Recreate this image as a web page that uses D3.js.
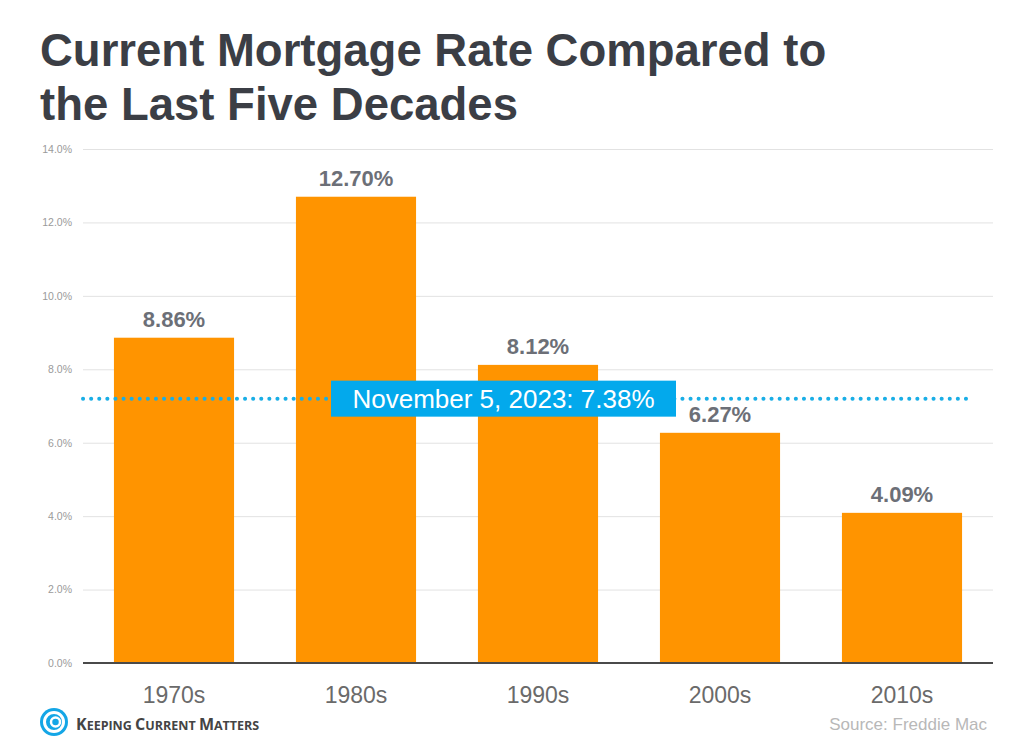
<!DOCTYPE html>
<html>
<head>
<meta charset="utf-8">
<script src="https://cdn.jsdelivr.net/npm/d3@7"></script>
<style>
  body { margin: 0; background: #fff; }
  svg { display: block; font-family: "Liberation Sans", Arial, sans-serif; }
</style>
</head>
<body>
<div id="chart"></div>
<script>
// chart data
const decades = ['1970s', '1980s', '1990s', '2000s', '2010s'];
const rates = [8.86, 12.70, 8.12, 6.27, 4.09];
const yTicks = [0, 2, 4, 6, 8, 10, 12, 14];
const currentLabel = 'November 5, 2023: 7.38%';
const currentLineLevel = 7.2; // where the dotted line sits in the picture

const width = 1023;
const height = 747;
const margin = { top: 149, right: 30, bottom: 84, left: 83 };

const svg = d3.select('#chart')
    .append('svg')
    .attr('width', width)
    .attr('height', height);

// title
const title = svg.append('text')
    .attr('x', 40)
    .attr('fill', '#3b3e45')
    .attr('font-size', 45.5)
    .attr('font-weight', 'bold');
title.append('tspan').attr('x', 40).attr('y', 66).text('Current Mortgage Rate Compared to');
title.append('tspan').attr('x', 40).attr('y', 120).text('the Last Five Decades');

const x = d3.scaleBand()
    .domain(decades)
    .range([margin.left, width - margin.right])
    .paddingInner(0.34)
    .paddingOuter(0.17);

const y = d3.scaleLinear()
    .domain([0, 14])
    .range([height - margin.bottom, margin.top]);

// gridlines + y labels
const yAxis = d3.axisLeft(y)
    .tickValues(yTicks)
    .tickSize(-(width - margin.right - margin.left))
    .tickPadding(11)
    .tickFormat(d => d.toFixed(1) + '%');

const gy = svg.append('g')
    .attr('transform', `translate(${margin.left},0)`)
    .call(yAxis);
gy.select('.domain').remove();
gy.selectAll('.tick line').attr('stroke', '#e2e2e2').attr('stroke-width', 1);
gy.selectAll('.tick text')
    .attr('fill', '#9a9a9a')
    .attr('font-size', 10.5)
    .attr('font-family', '"Liberation Sans", Arial, sans-serif');

// bars
svg.append('g')
    .selectAll('rect')
    .data(rates)
    .join('rect')
    .attr('x', (d, i) => x(decades[i]))
    .attr('y', d => y(d))
    .attr('width', x.bandwidth())
    .attr('height', d => y(0) - y(d))
    .attr('fill', '#ff9400');

// value labels
svg.append('g')
    .selectAll('text')
    .data(rates)
    .join('text')
    .attr('x', (d, i) => x(decades[i]) + x.bandwidth() / 2)
    .attr('y', d => y(d) - 11)
    .attr('text-anchor', 'middle')
    .attr('fill', '#6c6f77')
    .attr('font-size', 22)
    .attr('font-weight', 'bold')
    .text(d => d.toFixed(2) + '%');

// baseline
svg.append('line')
    .attr('x1', margin.left)
    .attr('x2', width - margin.right)
    .attr('y1', y(0))
    .attr('y2', y(0))
    .attr('stroke', '#4a4a4a')
    .attr('stroke-width', 2);

// x labels
const xAxis = d3.axisBottom(x).tickSize(0).tickPadding(24);
const gx = svg.append('g')
    .attr('transform', `translate(0,${y(0)})`)
    .call(xAxis);
gx.select('.domain').remove();
gx.selectAll('.tick text')
    .attr('fill', '#6a6a6a')
    .attr('font-size', 23)
    .attr('font-family', '"Liberation Sans", Arial, sans-serif');

// current rate dotted line
svg.append('line')
    .attr('x1', margin.left)
    .attr('x2', 972)
    .attr('y1', y(currentLineLevel))
    .attr('y2', y(currentLineLevel))
    .attr('stroke', '#1aaee6')
    .attr('stroke-width', 4)
    .attr('stroke-linecap', 'round')
    .attr('stroke-dasharray', '0.1 8');

// callout box
const boxY = y(currentLineLevel);
svg.append('rect')
    .attr('x', 331)
    .attr('y', boxY - 18)
    .attr('width', 345)
    .attr('height', 36)
    .attr('fill', '#03a9ec');
svg.append('text')
    .attr('x', 331 + 345 / 2)
    .attr('y', boxY + 9)
    .attr('text-anchor', 'middle')
    .attr('fill', '#fff')
    .attr('font-size', 26)
    .text(currentLabel);

// logo
const logo = svg.append('g').attr('transform', 'translate(54,722)');
logo.append('circle').attr('r', 14).attr('fill', '#14a6e6');
logo.append('circle').attr('r', 9.5).attr('fill', 'none').attr('stroke', '#fff').attr('stroke-width', 3);
logo.append('circle').attr('cx', 1.5).attr('r', 4.5).attr('fill', 'none').attr('stroke', '#fff').attr('stroke-width', 2.5);

const logoText = svg.append('text')
    .attr('x', 76)
    .attr('y', 730)
    .attr('fill', '#444')
    .attr('font-family', '"Open Sans", sans-serif')
    .attr('font-weight', 'bold')
    .attr('font-size', 12.5);
[['K', 'EEPING '], ['C', 'URRENT '], ['M', 'ATTERS']].forEach(([a, b]) => {
    logoText.append('tspan').attr('font-size', 16).text(a);
    logoText.append('tspan').text(b);
});

// source
svg.append('text')
    .attr('x', 987)
    .attr('y', 730)
    .attr('text-anchor', 'end')
    .attr('fill', '#b8b8b8')
    .attr('font-size', 17)
    .text('Source: Freddie Mac');
</script>
</body>
</html>
